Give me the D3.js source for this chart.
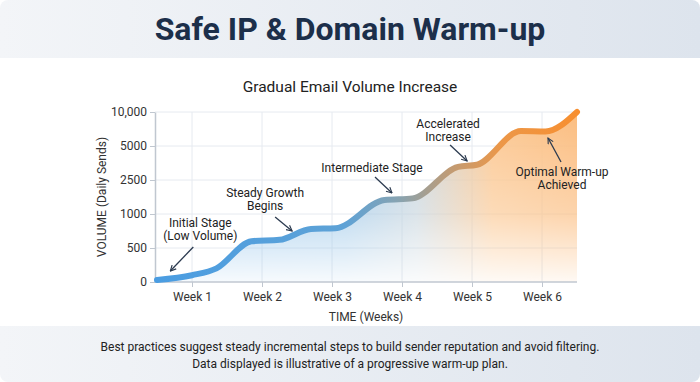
<!DOCTYPE html>
<html>
<head>
<meta charset="utf-8">
<script src="https://cdn.jsdelivr.net/npm/d3@7"></script>
<style>
  html, body { margin: 0; padding: 0; background: #ffffff; }
  svg { display: block; }
</style>
</head>
<body>
<svg id="chart" width="700" height="382"></svg>
<script>
// ---------- data ----------
const weekLabels = ["Week 1", "Week 2", "Week 3", "Week 4", "Week 5", "Week 6"];
const weekTicks = [1, 2, 3, 4, 5, 6];
const yTickValues = [0, 500, 1000, 2500, 5000, 10000];
const yTickLabels = ["0", "500", "1000", "2500", "5000", "10,000"];
// points (week, daily sends): ramp ends and plateau edges
const weeks = [0.5, 1.0, 1.35, 1.85, 2.25, 2.7, 3.05, 3.75, 4.15, 4.8, 5.07, 5.7, 6.05, 6.5];
const volume = [30, 100, 200, 600, 620, 780, 790, 1620, 1690, 3460, 3620, 7200, 7150, 10000];
// annotations: arrow tip on the curve (week, volume)
const annotations = [
  { lines: ["Initial Stage", "(Low Volume)"], week: 0.69, value: 162, from: [23, -24], text: [30, -48] },
  { lines: ["Steady Growth", "Begins"], week: 2.43, value: 750, from: [-17, -14], text: [-27, -38] },
  { lines: ["Intermediate Stage"], week: 3.857, value: 1926, from: [-17, -16], text: [-20, -25] },
  { lines: ["Accelerated", "Increase"], week: 4.93, value: 3897, from: [-17, -16], text: [-19, -37] },
  { lines: ["Optimal Warm-up", "Achieved"], week: 6.086, value: 6176, from: [13, 24], text: [14, 34] }
];
const titleText = "Safe IP & Domain Warm-up";
const subtitleText = "Gradual Email Volume Increase";
const footnote = [
  "Best practices suggest steady incremental steps to build sender reputation and avoid filtering.",
  "Data displayed is illustrative of a progressive warm-up plan."
];

// ---------- layout ----------
const W = 700, H = 382;
const plot = { left: 155, right: 577, top: 112, bottom: 282 };
const font = "Roboto, 'Noto Sans', sans-serif";

const svg = d3.select("#chart");
const defs = svg.append("defs");

defs.append("clipPath").attr("id", "card").append("rect")
  .attr("width", W).attr("height", H).attr("rx", 8);
const root = svg.append("g").attr("clip-path", "url(#card)");
root.append("rect").attr("width", W).attr("height", H).attr("fill", "#ffffff");

const bg = defs.append("linearGradient").attr("id", "band").attr("x1", 0).attr("x2", 1).attr("y1", 0).attr("y2", 0);
bg.append("stop").attr("offset", "0%").attr("stop-color", "#f3f5f8");
bg.append("stop").attr("offset", "100%").attr("stop-color", "#dde4ed");

root.append("rect").attr("x", 0).attr("y", 0).attr("width", W).attr("height", 58).attr("fill", "url(#band)");
root.append("rect").attr("x", 0).attr("y", 326).attr("width", W).attr("height", H - 326).attr("fill", "url(#band)");

root.append("text").attr("x", W / 2).attr("y", 40).attr("text-anchor", "middle")
  .attr("font-family", font).attr("font-weight", 700).attr("font-size", 32)
  .attr("fill", "#1c2f4a").text(titleText);

root.append("text").attr("x", W / 2).attr("y", 92).attr("text-anchor", "middle")
  .attr("font-family", font).attr("font-size", 15.5).attr("fill", "#222").text(subtitleText);

// ---------- scales ----------
const x = d3.scaleLinear().domain([0.5, 6.5]).range([157, plot.right]);
const y = d3.scaleLinear().domain(yTickValues)
  .range(yTickValues.map((d, i) => plot.bottom - i * (plot.bottom - plot.top) / (yTickValues.length - 1)));

const data = weeks.map((w, i) => ({ w, v: volume[i] }));

const g = root.append("g");
g.selectAll(".hgrid").data(yTickValues.slice(1)).join("line")
  .attr("x1", plot.left).attr("x2", plot.right)
  .attr("y1", d => y(d)).attr("y2", d => y(d))
  .attr("stroke", "#e6eaf0").attr("stroke-width", 1);
g.selectAll(".vgrid").data(weekTicks).join("line")
  .attr("x1", d => x(d)).attr("x2", d => x(d))
  .attr("y1", plot.top).attr("y2", plot.bottom)
  .attr("stroke", "#e6eaf0").attr("stroke-width", 1);

const ag = defs.append("linearGradient").attr("id", "areaGrad").attr("gradientUnits", "userSpaceOnUse")
  .attr("x1", plot.left).attr("x2", plot.right).attr("y1", 0).attr("y2", 0);
[["0%", "#98c8f0"], ["45%", "#a3cbea"], ["62%", "#c9d6de"], ["80%", "#fbc893"], ["100%", "#fbbd80"]]
  .forEach(s => ag.append("stop").attr("offset", s[0]).attr("stop-color", s[1]));
const mg = defs.append("linearGradient").attr("id", "maskGrad").attr("gradientUnits", "userSpaceOnUse")
  .attr("x1", 0).attr("x2", 0).attr("y1", plot.top).attr("y2", plot.bottom);
mg.append("stop").attr("offset", "0%").attr("stop-color", "#ffffff");
mg.append("stop").attr("offset", "60%").attr("stop-color", "#a8a8a8");
mg.append("stop").attr("offset", "100%").attr("stop-color", "#161616");
defs.append("mask").attr("id", "fade").append("rect")
  .attr("x", 0).attr("y", 0).attr("width", W).attr("height", H).attr("fill", "url(#maskGrad)");

const curve = d3.curveMonotoneX;
const area = d3.area().x(d => x(d.w)).y0(y(0)).y1(d => y(d.v)).curve(curve);
const line = d3.line().x(d => x(d.w)).y(d => y(d.v)).curve(curve);

root.append("path").datum(data).attr("d", area).attr("fill", "url(#areaGrad)").attr("mask", "url(#fade)");

const xAxis = d3.axisBottom(x).tickValues(weekTicks).tickFormat((d, i) => weekLabels[i]).tickSize(5).tickSizeOuter(0);
const gx = root.append("g").attr("transform", `translate(0,${plot.bottom})`).call(xAxis);
gx.select(".domain").attr("d", `M${plot.left},0H${plot.right}`).attr("stroke", "#c0c7d0").attr("stroke-width", 1.5);
gx.selectAll(".tick line").attr("stroke", "#c0c7d0");
gx.selectAll(".tick text").attr("font-family", font).attr("font-size", 12).attr("fill", "#333").attr("dy", "0.95em");

const yAxis = d3.axisLeft(y).tickValues(yTickValues).tickFormat((d, i) => yTickLabels[i]).tickSize(5).tickSizeOuter(0);
const gy = root.append("g").attr("transform", `translate(${plot.left},0)`).call(yAxis);
gy.select(".domain").attr("stroke", "#c0c7d0").attr("stroke-width", 1.5);
gy.selectAll(".tick line").attr("stroke", "#c0c7d0");
gy.selectAll(".tick text").attr("font-family", font).attr("font-size", 12).attr("fill", "#333");

root.append("text").attr("x", (plot.left + plot.right) / 2).attr("y", 321).attr("text-anchor", "middle")
  .attr("font-family", font).attr("font-size", 12).attr("fill", "#333").text("TIME (Weeks)");
root.append("text").attr("transform", `translate(106,${(plot.top + plot.bottom) / 2}) rotate(-90)`)
  .attr("text-anchor", "middle").attr("font-family", font).attr("font-size", 12).attr("fill", "#333")
  .text("VOLUME (Daily Sends)");

const lg = defs.append("linearGradient").attr("id", "lineGrad").attr("gradientUnits", "userSpaceOnUse")
  .attr("x1", plot.left).attr("x2", plot.right).attr("y1", 0).attr("y2", 0);
[["0%", "#4a9de2"], ["45%", "#5ea2d6"], ["58%", "#88a3b0"], ["70%", "#c19b74"], ["82%", "#ec9748"], ["100%", "#f78f30"]]
  .forEach(s => lg.append("stop").attr("offset", s[0]).attr("stop-color", s[1]));

root.append("path").datum(data).attr("d", line).attr("fill", "none")
  .attr("stroke", "url(#lineGrad)").attr("stroke-width", 6).attr("stroke-linecap", "round").attr("stroke-linejoin", "round");

defs.append("marker").attr("id", "arrow").attr("viewBox", "0 0 10 10").attr("refX", 9).attr("refY", 5)
  .attr("markerWidth", 7).attr("markerHeight", 7).attr("markerUnits", "userSpaceOnUse").attr("orient", "auto")
  .append("path").attr("d", "M1,1L9,5L1,9").attr("fill", "none").attr("stroke", "#2b3a4f").attr("stroke-width", 1.6);

const ann = root.append("g").selectAll("g").data(annotations).join("g");
ann.append("line")
  .attr("x1", d => x(d.week) + d.from[0]).attr("y1", d => y(d.value) + d.from[1])
  .attr("x2", d => x(d.week)).attr("y2", d => y(d.value))
  .attr("stroke", "#2b3a4f").attr("stroke-width", 1.3).attr("marker-end", "url(#arrow)");
ann.each(function (d) {
  const t = d3.select(this).append("text").attr("text-anchor", "middle")
    .attr("font-family", font).attr("font-size", 12).attr("fill", "#222");
  d.lines.forEach((s, i) => {
    t.append("tspan").attr("x", x(d.week) + d.text[0]).attr("y", y(d.value) + d.text[1] + 4 + i * 13).text(s);
  });
});

root.append("text").attr("text-anchor", "middle").attr("font-family", font).attr("font-size", 12).attr("fill", "#222")
  .selectAll("tspan").data(footnote).join("tspan")
  .attr("x", W / 2).attr("y", (d, i) => 351 + i * 17).text(d => d);
</script>
</body>
</html>
